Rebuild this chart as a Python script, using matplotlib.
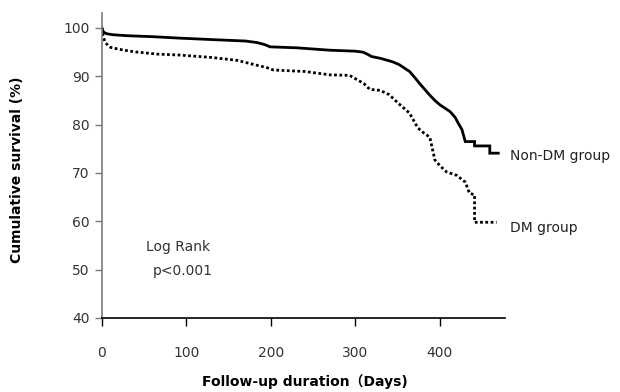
import matplotlib.pyplot as plt

# Kaplan-Meier estimates (days, cumulative survival %)
# repeated days mark the visible vertical drops in the tails
non_dm_days = [0, 1, 3, 6, 13, 30, 60, 92, 130, 170, 183, 192, 199, 230, 270,
               300, 309, 315, 319, 330, 344, 352, 358, 364, 370, 376, 382, 388,
               394, 400, 406, 412, 418, 422, 426, 430, 441, 441, 459, 459, 469]
non_dm_surv = [100, 99.4, 99.0, 98.8, 98.6, 98.4, 98.2, 97.9, 97.6, 97.3, 97.0,
               96.6, 96.1, 95.9, 95.4, 95.2, 95.0, 94.5, 94.1, 93.7, 93.0, 92.4,
               91.7, 91.0, 89.8, 88.5, 87.3, 86.1, 85.0, 84.1, 83.4, 82.7, 81.5,
               80.2, 79.0, 76.5, 76.5, 75.6, 75.6, 74.1, 74.1]

dm_days = [0, 1, 2, 4, 7, 10, 20, 37, 65, 92, 130, 160, 183, 195, 203, 240,
           270, 293, 300, 310, 317, 329, 340, 349, 356, 364, 370, 374, 380, 388,
           394, 400, 408, 420, 430, 435, 441, 441, 467]
dm_surv = [100, 98.6, 97.9, 97.0, 96.4, 96.0, 95.6, 95.1, 94.6, 94.4, 93.9,
           93.3, 92.3, 91.8, 91.3, 91.0, 90.3, 90.2, 89.5, 88.5, 87.3, 87.1,
           86.2, 84.7, 83.6, 82.4, 80.5, 79.3, 78.4, 77.4, 72.7, 71.5,
           70.2, 69.5, 68.1, 65.8, 65.5, 59.8, 59.8]

x_ticks = [0, 100, 200, 300, 400]
y_ticks = [40, 50, 60, 70, 80, 90, 100]

plt.rcParams['font.family'] = ['DejaVu Sans', 'Noto Sans CJK SC']

fig = plt.figure(figsize=(6.2, 3.92), dpi=100)
ax = fig.add_axes([0.1645, 0.1888, 0.65, 0.7768])

ax.plot(non_dm_days, non_dm_surv, color='black', linewidth=2.0,
        solid_joinstyle='miter')
ax.plot(dm_days, dm_surv, color='black', linewidth=2.0,
        linestyle=(0, (1, 0.9)))

ax.set_xlim(0, 477)
ax.set_ylim(40, 103)
ax.set_xticks(x_ticks)
ax.set_yticks(y_ticks)

for side in ['top', 'right']:
    ax.spines[side].set_visible(False)
ax.spines['left'].set_color('#7a7a7a')
ax.spines['left'].set_linewidth(1.2)
ax.spines['bottom'].set_color('black')
ax.spines['bottom'].set_linewidth(1.2)

ax.tick_params(axis='y', direction='out', length=5, width=1, color='#7a7a7a',
               labelsize=10, labelcolor='#333333', pad=4)
ax.tick_params(axis='x', direction='out', length=6, width=1, color='black',
               labelsize=10, labelcolor='#333333', pad=14)

ax.set_ylabel('Cumulative survival (%)', fontsize=10, fontweight='bold')
ax.yaxis.set_label_coords(-0.194, 0.486)
ax.set_xlabel('Follow-up duration（Days)', fontsize=10, fontweight='bold')
ax.xaxis.set_label_coords(0.504, -0.185)

ax.text(483, 73.6, 'Non-DM group', fontsize=10, color='#222222',
        va='center', ha='left', clip_on=False)
ax.text(483, 58.6, 'DM group', fontsize=10, color='#222222',
        va='center', ha='left', clip_on=False)
ax.text(90, 54.7, 'Log Rank', fontsize=10, color='#333333',
        va='center', ha='center')
ax.text(96, 49.7, 'p<0.001', fontsize=10, color='#333333',
        va='center', ha='center')

plt.savefig('out.png', dpi=100)
